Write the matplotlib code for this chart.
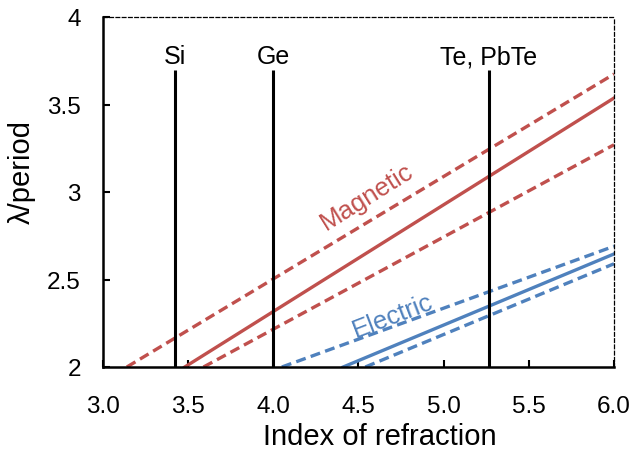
import matplotlib
matplotlib.use("Agg")
import matplotlib.pyplot as plt

plt.rcParams['font.family'] = ['Liberation Sans', 'DejaVu Sans']

# Data (two end points per line: x at lambda/period=2, and at x=6)
mag_upper_x = [3.14, 6.0]; mag_upper_y = [2.0, 3.674]
mag_mid_x = [3.48, 6.0];   mag_mid_y = [2.0, 3.537]
mag_lower_x = [3.59, 6.0]; mag_lower_y = [2.0, 3.27]
ele_upper_x = [4.05, 6.0]; ele_upper_y = [2.0, 2.69]
ele_mid_x = [4.41, 6.0];   ele_mid_y = [2.0, 2.646]
ele_lower_x = [4.54, 6.0]; ele_lower_y = [2.0, 2.59]

materials = ['Si', 'Ge', 'Te, PbTe']
material_n = [3.42, 4.0, 5.265]
material_top = 3.70

xticks = [3.0, 3.5, 4.0, 4.5, 5.0, 5.5, 6.0]
yticks = [2, 2.5, 3, 3.5, 4]

red = '#C0504D'
blue = '#4F81BD'

fig = plt.figure(figsize=(6.34, 4.56), dpi=100)
ax = fig.add_axes([103/634, 1-368/456, (614-103)/634, (368-18)/456])

lw = 2.4
dash = (0, (3, 1.6))
ax.plot(mag_upper_x, mag_upper_y, color=red, lw=lw, ls=dash)
ax.plot(mag_mid_x, mag_mid_y, color=red, lw=lw)
ax.plot(mag_lower_x, mag_lower_y, color=red, lw=lw, ls=dash)
ax.plot(ele_upper_x, ele_upper_y, color=blue, lw=lw, ls=dash)
ax.plot(ele_mid_x, ele_mid_y, color=blue, lw=lw)
ax.plot(ele_lower_x, ele_lower_y, color=blue, lw=lw, ls=dash)

for name, n in zip(materials, material_n):
    ax.plot([n, n], [2, material_top], color='black', lw=2.2, solid_capstyle='butt')
    ax.text(n, 3.735, name, ha='center', va='baseline', fontsize=18)

ax.text(4.55, 2.975, 'Magnetic', color=red, fontsize=18.5, rotation=32,
        ha='center', va='center', rotation_mode='anchor')
ax.text(4.70, 2.295, 'Electric', color=blue, fontsize=18.5, rotation=21,
        ha='center', va='center', rotation_mode='anchor')

ax.set_xlim(3.0, 6.0)
ax.set_ylim(2, 4)
ax.set_xticks(xticks)
ax.set_xticklabels([f'{t:.1f}' for t in xticks])
ax.set_yticks(yticks)
ax.set_yticklabels(['2', '2.5', '3', '3.5', '4'])
ax.tick_params(direction='in', length=5, width=1.5, labelsize=17.5)
ax.tick_params(axis='x', pad=20)
ax.tick_params(axis='y', pad=16)

for s in ['left', 'bottom']:
    ax.spines[s].set_linewidth(1.8)
for s in ['top', 'right']:
    ax.spines[s].set_linewidth(0.9)
    ax.spines[s].set_linestyle((0, (3, 2)))

ax.set_xlabel('Index of refraction', fontsize=21)
ax.set_ylabel('λ/period', fontsize=21)
ax.xaxis.set_label_coords((380-103)/511, (368-437)/350)
ax.xaxis.label.set_va('center')
ax.yaxis.set_label_coords((22-103)/511, (368-172)/350)
ax.yaxis.label.set_va('center')

fig.savefig('out.png', dpi=100)
